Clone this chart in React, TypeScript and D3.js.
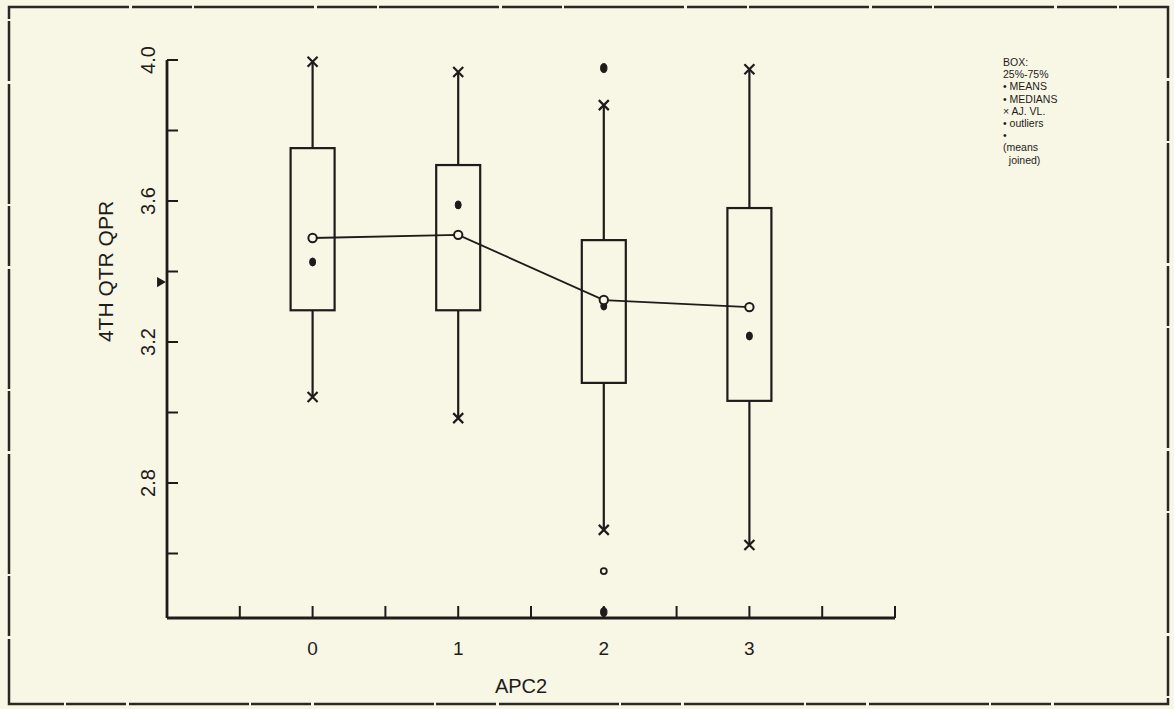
import { useEffect, useRef } from "react";
import * as d3 from "d3";

// Groups on the x axis
const groups = [0, 1, 2, 3];

// Box statistics (4TH QTR QPR)
const boxLow = [3.29, 3.29, 3.084, 3.033];
const boxHigh = [3.75, 3.702, 3.489, 3.58];
const whiskerLow = [3.044, 2.984, 2.667, 2.624];
const whiskerHigh = [3.995, 3.966, 3.872, 3.974];
const means = [3.495, 3.504, 3.319, 3.299];
const medians = [3.427, 3.589, 3.302, 3.217];

// Outliers: group, value, filled?
const outlierGroup = [2, 2, 2];
const outlierValue = [3.977, 2.55, 2.434];
const outlierFilled = [true, false, true];

// Axis ticks
const yTicks = [2.6, 2.8, 3.0, 3.2, 3.4, 3.6, 3.8, 4.0];
const yLabels = [2.8, 3.2, 3.6, 4.0];
const xTicks = [-0.5, 0, 0.5, 1, 1.5, 2, 2.5, 3, 3.5, 4];
const xLabels = [0, 1, 2, 3];

const legendLines = ["BOX:", "25%-75%", "• MEANS", "• MEDIANS", "× AJ. VL.", "• outliers", "•", "(means", "  joined)"];

export default function App() {
    const svgRef = useRef<SVGSVGElement | null>(null);

    useEffect(() => {
        if (!svgRef.current) return;
        const svg = d3.select(svgRef.current);
        svg.html("");

        const ink = "#1e1c1a";
        const font = "'Liberation Sans', Arial, sans-serif";

        svg.append("rect").attr("width", 1174).attr("height", 709).attr("fill", "#f8f6e5");

        // outer frame, a bit broken like a photocopy
        svg.append("rect")
            .attr("x", 9).attr("y", 7).attr("width", 1159).attr("height", 697)
            .attr("fill", "none").attr("stroke", "#2a2826").attr("stroke-width", 2.5)
            .attr("stroke-dasharray", "120 3 60 2");

        const x = d3.scaleLinear().domain([-1, 4]).range([167, 895]);
        const y = d3.scaleLinear().domain([2.417, 4.0]).range([618, 60]);

        const g = svg.append("g").attr("stroke", ink).attr("fill", "none");

        // axes
        g.append("line").attr("x1", x(-1)).attr("x2", x(-1)).attr("y1", y(4.0)).attr("y2", y(2.417)).attr("stroke-width", 2.8);
        g.append("line").attr("x1", x(-1)).attr("x2", x(4)).attr("y1", y(2.417)).attr("y2", y(2.417)).attr("stroke-width", 2.8);

        yTicks.forEach(t => {
            g.append("line").attr("x1", x(-1)).attr("x2", x(-1) + 11).attr("y1", y(t)).attr("y2", y(t)).attr("stroke-width", 2);
        });
        xTicks.forEach(t => {
            g.append("line").attr("x1", x(t)).attr("x2", x(t)).attr("y1", y(2.417)).attr("y2", y(2.417) - 12).attr("stroke-width", 2);
        });

        yLabels.forEach(t => {
            svg.append("text")
                .attr("transform", `translate(${x(-1) - 12},${y(t)}) rotate(-90)`)
                .attr("text-anchor", "middle")
                .attr("font-family", font).attr("font-size", 20).attr("fill", ink)
                .text(t.toFixed(1));
        });
        xLabels.forEach(t => {
            svg.append("text")
                .attr("x", x(t)).attr("y", 655)
                .attr("text-anchor", "middle")
                .attr("font-family", font).attr("font-size", 19).attr("fill", ink)
                .text(String(t));
        });

        svg.append("text")
            .attr("x", x(1.5) - 10).attr("y", 693)
            .attr("text-anchor", "middle")
            .attr("font-family", font).attr("font-size", 20).attr("fill", ink)
            .text("APC2");

        svg.append("text")
            .attr("transform", `translate(113,${y(3.4)}) rotate(-90)`)
            .attr("text-anchor", "middle")
            .attr("font-family", font).attr("font-size", 21).attr("fill", ink)
            .text("4TH QTR QPR");

        // small marker left of the axis
        svg.append("path")
            .attr("d", d3.symbol(d3.symbolTriangle, 45)())
            .attr("transform", `translate(${x(-1) - 7},${y(3.37)}) rotate(90)`)
            .attr("fill", ink);

        const half = 22;
        const cross = (cx: number, cy: number) => {
            g.append("path")
                .attr("d", `M${cx - 5},${cy - 5}L${cx + 5},${cy + 5}M${cx - 5},${cy + 5}L${cx + 5},${cy - 5}`)
                .attr("stroke-width", 2.2);
        };

        groups.forEach((grp, i) => {
            const cx = x(grp);
            // whiskers
            g.append("line").attr("x1", cx).attr("x2", cx).attr("y1", y(whiskerHigh[i])).attr("y2", y(boxHigh[i])).attr("stroke-width", 2.2);
            g.append("line").attr("x1", cx).attr("x2", cx).attr("y1", y(boxLow[i])).attr("y2", y(whiskerLow[i])).attr("stroke-width", 2.2);
            cross(cx, y(whiskerHigh[i]));
            cross(cx, y(whiskerLow[i]));
            // box
            g.append("rect")
                .attr("x", cx - half).attr("width", half * 2)
                .attr("y", y(boxHigh[i])).attr("height", y(boxLow[i]) - y(boxHigh[i]))
                .attr("stroke-width", 2.2);
            // median dot
            g.append("ellipse").attr("cx", cx).attr("cy", y(medians[i])).attr("rx", 3).attr("ry", 4).attr("fill", ink);
        });

        // joined means
        g.append("path")
            .datum(groups)
            .attr("stroke-width", 1.8)
            .attr("d", d3.line<number>().x(d => x(d)).y((d, i) => y(means[i])));
        groups.forEach((grp, i) => {
            g.append("circle").attr("cx", x(grp)).attr("cy", y(means[i])).attr("r", 4.2)
                .attr("fill", "#f8f6e5").attr("stroke-width", 2);
        });

        // outliers
        outlierValue.forEach((v, i) => {
            const cx = x(outlierGroup[i]);
            if (outlierFilled[i]) {
                g.append("ellipse").attr("cx", cx).attr("cy", y(v)).attr("rx", 3.2).attr("ry", 4.5).attr("fill", ink);
            } else {
                g.append("circle").attr("cx", cx).attr("cy", y(v)).attr("r", 3).attr("stroke-width", 1.8);
            }
        });

        // legend
        legendLines.forEach((line, i) => {
            svg.append("text")
                .attr("x", 1003).attr("y", 66 + i * 12.2)
                .attr("font-family", font).attr("font-size", 10.5)
                .attr("fill", ink).attr("xml:space", "preserve")
                .style("white-space", "pre")
                .text(line);
        });
    }, []);

    return (
        <svg ref={svgRef} width={1174} height={709} style={{ position: "absolute", left: 0, top: 0 }}></svg>
    );
}
